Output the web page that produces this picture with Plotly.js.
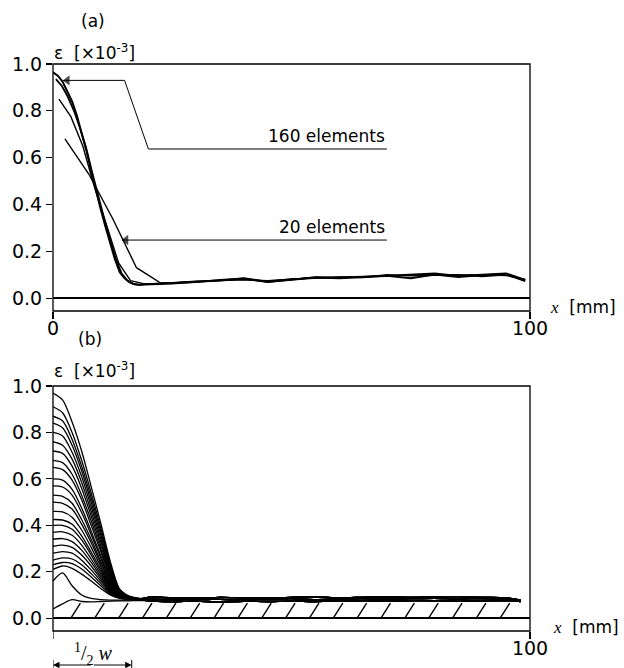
<!DOCTYPE html>
<html>
<head>
<meta charset="utf-8">
<script src="https://cdn.plot.ly/plotly-3.0.1.min.js"></script>
<style>html,body{margin:0;padding:0;background:#fff;}#chart{width:624px;height:668px;}</style>
</head>
<body>
<div id="chart"></div>
<script>
// ---------- Panel (a): mesh refinement ----------
const x160 = [0,1,2,3,4,5,6,7,8,9,10,11,12,13,14,15,16,17,18,20];
const y160 = [0.965,0.95,0.925,0.885,0.84,0.78,0.71,0.63,0.545,0.46,0.38,0.305,0.23,0.165,0.11,0.085,0.068,0.06,0.057,0.058];
const x80 = [0.6,1.9,3.1,4.4,5.6,6.9,8.1,9.4,10.6,11.9,13.1,14.4,15.6,16.9,18.1,19.4];
const y80 = [0.935,0.905,0.86,0.80,0.73,0.645,0.545,0.44,0.35,0.255,0.17,0.105,0.075,0.06,0.057,0.06];
const x40 = [1.25,3.75,6.25,8.75,11.25,13.75,16.25,18.75,21.25];
const y40 = [0.85,0.775,0.65,0.47,0.31,0.15,0.075,0.063,0.062];
const x20 = [2.5,7.5,12.5,17.5,22.5];
const y20 = [0.68,0.53,0.34,0.13,0.065];
const tailXa = [25,30,35,40,45,50,55,60,65,70,75,80,85,90,95,99];
const tail160 = [0.062,0.07,0.075,0.085,0.07,0.078,0.088,0.085,0.09,0.098,0.1,0.105,0.095,0.1,0.105,0.078];
const tail80  = [0.063,0.068,0.078,0.083,0.068,0.08,0.09,0.088,0.093,0.095,0.085,0.1,0.09,0.098,0.102,0.075];
const tail40  = [0.065,0.07,0.074,0.08,0.072,0.082,0.085,0.09,0.088,0.1,0.095,0.098,0.1,0.092,0.1,0.072];
const tail20  = [0.066,0.072,0.076,0.078,0.074,0.08,0.087,0.088,0.09,0.095,0.098,0.1,0.098,0.1,0.096,0.08];
const lead160X = [2.2,15,20,70];
const lead160Y = [0.93,0.93,0.637,0.637];
const lead20X = [14.5,70];
const lead20Y = [0.248,0.248];
const label160 = "160 elements";
const label20 = "20 elements";

// ---------- Panel (b): load steps ----------
const headX = [0,2,4,6,8,10,12,14,16,18];
const steps = [
  [0.97,0.94,0.845,0.72,0.567,0.41,0.245,0.125,0.095,0.085],
  [0.91,0.885,0.80,0.68,0.54,0.39,0.235,0.12,0.093,0.085],
  [0.87,0.85,0.77,0.655,0.52,0.375,0.225,0.118,0.092,0.084],
  [0.84,0.82,0.745,0.635,0.50,0.36,0.215,0.115,0.091,0.084],
  [0.80,0.785,0.715,0.61,0.48,0.345,0.205,0.112,0.09,0.084],
  [0.76,0.745,0.685,0.585,0.46,0.33,0.198,0.11,0.09,0.083],
  [0.72,0.71,0.655,0.56,0.44,0.315,0.19,0.108,0.089,0.083],
  [0.68,0.67,0.62,0.53,0.42,0.30,0.182,0.106,0.089,0.083],
  [0.65,0.64,0.595,0.51,0.40,0.288,0.175,0.104,0.088,0.082],
  [0.60,0.595,0.555,0.475,0.375,0.27,0.165,0.102,0.088,0.082],
  [0.57,0.565,0.53,0.455,0.36,0.26,0.16,0.10,0.087,0.082],
  [0.53,0.525,0.495,0.425,0.34,0.245,0.152,0.098,0.087,0.082],
  [0.50,0.495,0.47,0.405,0.325,0.235,0.147,0.097,0.086,0.081],
  [0.46,0.458,0.435,0.38,0.305,0.222,0.14,0.095,0.086,0.081],
  [0.425,0.423,0.405,0.355,0.285,0.21,0.135,0.094,0.085,0.081],
  [0.40,0.40,0.383,0.337,0.272,0.20,0.13,0.093,0.085,0.081],
  [0.37,0.372,0.357,0.315,0.255,0.19,0.125,0.092,0.084,0.08],
  [0.34,0.343,0.33,0.293,0.24,0.18,0.12,0.091,0.084,0.08],
  [0.31,0.315,0.305,0.272,0.225,0.17,0.116,0.09,0.083,0.08],
  [0.28,0.287,0.28,0.25,0.208,0.16,0.112,0.089,0.083,0.08],
  [0.25,0.26,0.255,0.23,0.192,0.15,0.108,0.088,0.082,0.08],
  [0.23,0.24,0.235,0.212,0.178,0.14,0.104,0.087,0.082,0.08],
  [0.21,0.225,0.215,0.19,0.16,0.128,0.10,0.086,0.082,0.08],
  [0.16,0.195,0.14,0.10,0.085,0.08,0.078,0.078,0.078,0.078],
  [0.04,0.062,0.08,0.072,0.07,0.072,0.074,0.075,0.075,0.076]
];
const tailXb = [20,25,30,35,40,45,50,55,60,65,70,75,80,85,90,95,98];
const tailsB = [
  [0.075,0.072,0.074,0.07,0.073,0.072,0.074,0.072,0.075,0.073,0.074,0.076,0.075,0.074,0.075,0.076,0.072],
  [0.082,0.08,0.083,0.081,0.079,0.082,0.084,0.08,0.083,0.085,0.082,0.084,0.086,0.083,0.085,0.082,0.076],
  [0.09,0.088,0.086,0.09,0.088,0.087,0.09,0.092,0.088,0.09,0.092,0.09,0.092,0.093,0.09,0.087,0.078]
];
const hatchStarts = [3.75,8.75,13.75,18.75,23.75,28.75,33.75,38.75,43.75,48.75,53.75,58.75,63.75,68.75,73.75,78.75,83.75,88.75,93.75];
const halfW = [0,16.5];
const halfWLabel = '<sup>1</sup>/<sub>2</sub> <i>w</i>';

const yTicks = [0,0.2,0.4,0.6,0.8,1.0];
const yTickText = ["0.0","0.2","0.4","0.6","0.8","1.0"];
const xTicksA = [0,100];
const xTextA = ["0","100"];
const xTicksB = [100];
const xTextB = ["100"];

// ---------- build traces ----------
const traces = [];
function line(xs, ys, xa, ya, w, shape) {
  traces.push({x: xs, y: ys, xaxis: xa, yaxis: ya, type: 'scatter', mode: 'lines',
    line: {color: '#000', width: w, shape: shape || 'linear', smoothing: 0.8},
    hoverinfo: 'skip', showlegend: false});
}
function heads(xs, ys, xa, ya, syms, size) {
  traces.push({x: xs, y: ys, xaxis: xa, yaxis: ya, type: 'scatter', mode: 'markers', cliponaxis: false,
    marker: {symbol: syms, size: size, color: '#000', line: {width: 0}},
    hoverinfo: 'skip', showlegend: false});
}
line(x160.concat(tailXa), y160.concat(tail160), 'x', 'y', 2.0);
line(x80.concat(tailXa), y80.concat(tail80), 'x', 'y', 1.8);
line(x40.concat(tailXa), y40.concat(tail40), 'x', 'y', 1.4);
line(x20.concat(tailXa), y20.concat(tail20), 'x', 'y', 1.4);
line(lead160X, lead160Y, 'x', 'y', 1);
line(lead20X, lead20Y, 'x', 'y', 1);
heads([lead160X[0] + 0.8, lead20X[0] + 0.8], [lead160Y[0], lead20Y[0]], 'x', 'y', 'triangle-left', [9, 9]);

steps.forEach((s, i) => {
  line(headX.concat(tailXb), s.concat(tailsB[i % 3]), 'x2', 'y2', 1.3, 'spline');
});
const hx = [], hy = [];
hatchStarts.forEach(s => { hx.push(s, s + 2.0, null); hy.push(0, 0.065, null); });
line(hx, hy, 'x2', 'y2', 1.4);

// ---------- layout ----------
const fontMain = {family: 'DejaVu Sans, Liberation Sans, Arial', size: 17, color: '#000'};
const tickFont = {family: 'DejaVu Sans, Liberation Sans, Arial', size: 19, color: '#000'};
function xAxis(anchor, tv, tt) {
  return {domain: [53/624, 530/624], anchor: anchor, range: [0,100], showline: false,
    showgrid: false, zeroline: false,
    ticks: 'outside', ticklen: 7, tickcolor: '#000', tickwidth: 1.2, ticklabelstandoff: -7,
    tickvals: tv, ticktext: tt, tickfont: tickFont, fixedrange: true};
}
function yAxis(anchor, dom) {
  return {domain: dom, anchor: anchor, range: [-0.055, 1.0], showline: false, showgrid: false,
    zeroline: true, zerolinecolor: '#000', zerolinewidth: 1.5,
    ticks: 'outside', ticklen: 6, tickcolor: '#000', tickwidth: 1.2,
    tickvals: yTicks, ticktext: yTickText, tickfont: tickFont, fixedrange: true};
}
const ylab = 'ε  [×10<sup>-3</sup>]';
const xlab = '<span style="font-family:\'Liberation Serif\';font-style:italic">x</span>  [mm]';
function pa(text, px, py, size, xanchor, fam) {
  return {text: text, xref: 'paper', yref: 'paper', x: px/624, y: 1 - py/668,
    xanchor: xanchor || 'center', yanchor: 'middle', showarrow: false,
    font: {family: fam || fontMain.family, size: size, color: '#000'}};
}
const dimYpaper = 1 - 665/668;
function dimArrow(tip, from) {
  return {text: '', xref: 'x2', yref: 'paper', x: tip, y: dimYpaper, axref: 'x2', ayref: 'pixel',
    ax: from, ay: 0, showarrow: true, arrowhead: 2, arrowsize: 1.3, arrowwidth: 1, arrowcolor: '#000',
    standoff: 0, startstandoff: 0};
}
const ann = [
  pa('(a)', 93, 21, 17),
  pa('(b)', 90, 339, 17),
  pa(ylab, 52, 52, 17, 'left'),
  pa(ylab, 52, 370, 17, 'left'),
  pa(xlab, 548, 307, 17, 'left'),
  pa(xlab, 551, 627, 17, 'left'),
  pa(halfWLabel, 93, 654, 20, 'center', 'Liberation Serif, serif'),
  {text: label160, xref: 'x', yref: 'y', x: 70, y: lead160Y[3], xanchor: 'right', yanchor: 'bottom', yshift: 1, showarrow: false, font: fontMain},
  {text: label20, xref: 'x', yref: 'y', x: 70, y: lead20Y[1], xanchor: 'right', yanchor: 'bottom', yshift: 1, showarrow: false, font: fontMain},
  dimArrow(halfW[0], halfW[1] / 2),
  dimArrow(halfW[1], halfW[1] / 2)
];
const shapes = [
  {type: 'rect', xref: 'x domain', yref: 'y domain', x0: 0, x1: 1, y0: 0, y1: 1, layer: 'above', line: {color: '#000', width: 1.3}},
  {type: 'rect', xref: 'x2 domain', yref: 'y2 domain', x0: 0, x1: 1, y0: 0, y1: 1, layer: 'above', line: {color: '#000', width: 1.3}},
  {type: 'line', xref: 'x2', yref: 'y2 domain', ysizemode: 'pixel', yanchor: 0, x0: 0, x1: 0, y0: 0, y1: -8, line: {color: '#000', width: 1.2}},
  {type: 'line', xref: 'x2', yref: 'paper', x0: halfW[0], x1: halfW[0], y0: 0, y1: 1 - 660/668, line: {color: '#000', width: 1}},
  {type: 'line', xref: 'x2', yref: 'paper', x0: halfW[1], x1: halfW[1], y0: 0, y1: 1 - 660/668, line: {color: '#000', width: 1}}
];

const layout = {
  width: 624, height: 668, margin: {l: 0, r: 0, t: 0, b: 0},
  paper_bgcolor: '#fff', plot_bgcolor: '#fff', showlegend: false,
  font: fontMain,
  xaxis: xAxis('y', xTicksA, xTextA), yaxis: yAxis('x', [1 - 311/668, 1 - 64/668]),
  xaxis2: xAxis('y2', xTicksB, xTextB), yaxis2: yAxis('x2', [1 - 631/668, 1 - 386/668]),
  annotations: ann, shapes: shapes
};
Plotly.newPlot('chart', traces, layout, {displayModeBar: false, staticPlot: true});
</script>
</body>
</html>
